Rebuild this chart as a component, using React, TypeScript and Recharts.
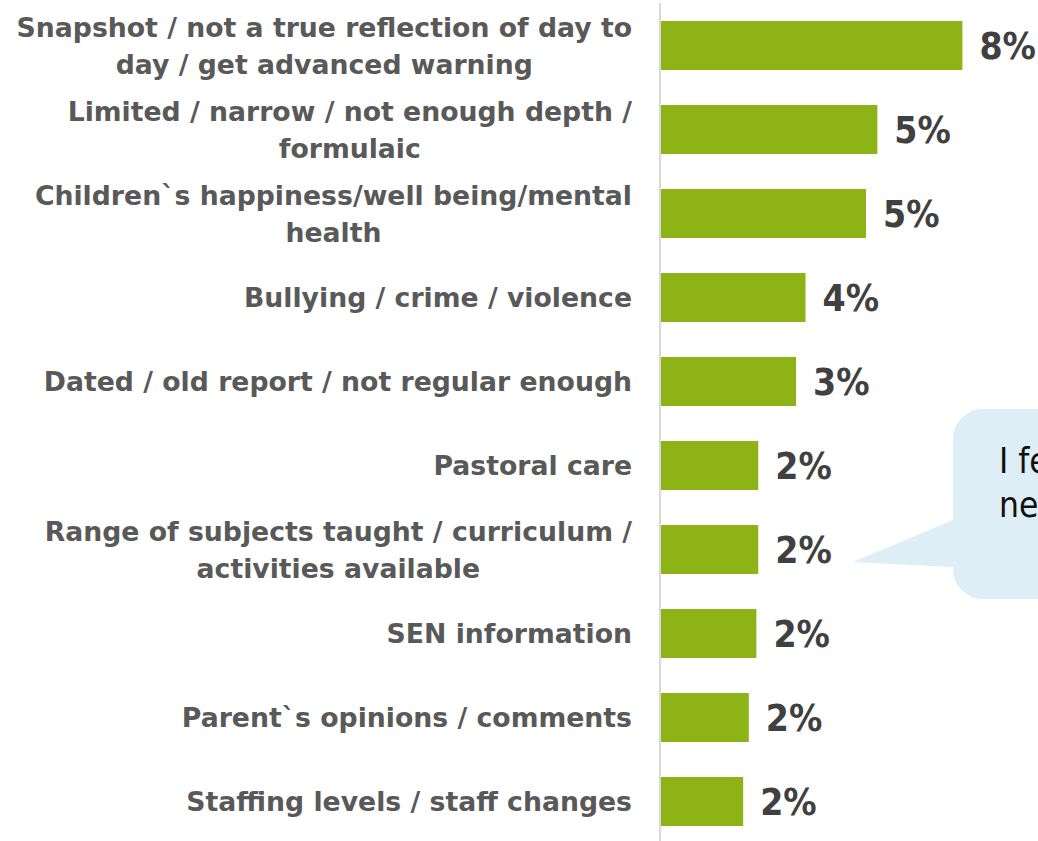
import React from 'react'
import { BarChart, Bar, XAxis, YAxis, LabelList } from 'recharts'

const categories = [
  'Snapshot / not a true reflection of day to\nday / get advanced warning',
  'Limited / narrow / not enough depth /\nformulaic',
  'Children`s happiness/well being/mental\nhealth',
  'Bullying / crime / violence',
  'Dated / old report / not regular enough',
  'Pastoral care',
  'Range of subjects taught / curriculum /\nactivities available',
  'SEN information',
  'Parent`s opinions / comments',
  'Staffing levels / staff changes'
]
const values = [8.0, 5.75, 5.45, 3.85, 3.6, 2.6, 2.6, 2.55, 2.35, 2.2]
const valueLabels = ['8%', '5%', '5%', '4%', '3%', '2%', '2%', '2%', '2%', '2%']
const calloutLines = ['I feel it', 'needs more']

const data = categories.map((name, i) => ({ name, value: values[i], label: valueLabels[i] }))

const LABEL_FONT = '"DejaVu Sans", sans-serif'
const LABEL_SIZE = 26.7

let ctx: CanvasRenderingContext2D | null = null
const measure = (s: string) => {
  if (!ctx) ctx = document.createElement('canvas').getContext('2d')
  if (!ctx) return s.length * LABEL_SIZE * 0.6
  ctx.font = `bold ${LABEL_SIZE}px ${LABEL_FONT}`
  return ctx.measureText(s).width
}

// multi-line category label, lines centred on each other, block right-aligned
const CategoryTick = (props: any) => {
  const { x, y, payload } = props
  const lines: string[] = String(payload.value).split('\n')
  const maxW = Math.max(...lines.map(measure))
  const cx = x - maxW / 2
  const lh = 37
  const first = y + 10 - ((lines.length - 1) * lh) / 2
  return (
    <text
      fill="#595959"
      fontFamily={LABEL_FONT}
      fontWeight="bold"
      fontSize={LABEL_SIZE}
      textAnchor="middle"
    >
      {lines.map((l, i) => (
        <tspan key={i} x={cx} y={first + i * lh}>
          {l}
        </tspan>
      ))}
    </text>
  )
}

const App = () => {
  return (
    <div style={{ position: 'absolute', left: 0, top: 0, width: 1038, height: 841, overflow: 'hidden', background: '#fff' }}>
      <BarChart
        width={1038}
        height={844}
        data={data}
        layout="vertical"
        margin={{ top: 3, right: 0, bottom: 1, left: 0 }}
        barCategoryGap={35}
      >
        <XAxis type="number" domain={[0, 10]} hide />
        <YAxis
          type="category"
          dataKey="name"
          width={660}
          tickLine={false}
          tickSize={0}
          tickMargin={28}
          axisLine={{ stroke: '#d9d9d9', strokeWidth: 2 }}
          tick={<CategoryTick />}
          interval={0}
        />
        <Bar dataKey="value" fill="#8db317" barSize={49} isAnimationActive={false}>
          <LabelList
            dataKey="label"
            position="right"
            offset={17}
            fill="#404040"
            fontSize={37}
            fontWeight="bold"
            fontFamily='"DejaVu Sans Condensed", "DejaVu Sans", sans-serif'
          />
        </Bar>
        <g>
          <path
            d="M 983 409 H 1120 V 599 H 983 A 30 30 0 0 1 953 569 V 567 L 853 562 L 953 520 V 439 A 30 30 0 0 1 983 409 Z"
            fill="#ddeef6"
          />
          <text fill="#111" fontSize={35} fontFamily='"DejaVu Sans Condensed", "DejaVu Sans", sans-serif'>
            {calloutLines.map((l, i) => (
              <tspan key={i} x={999} y={473 + i * 44}>
                {l}
              </tspan>
            ))}
          </text>
        </g>
      </BarChart>
    </div>
  )
}

export default App
